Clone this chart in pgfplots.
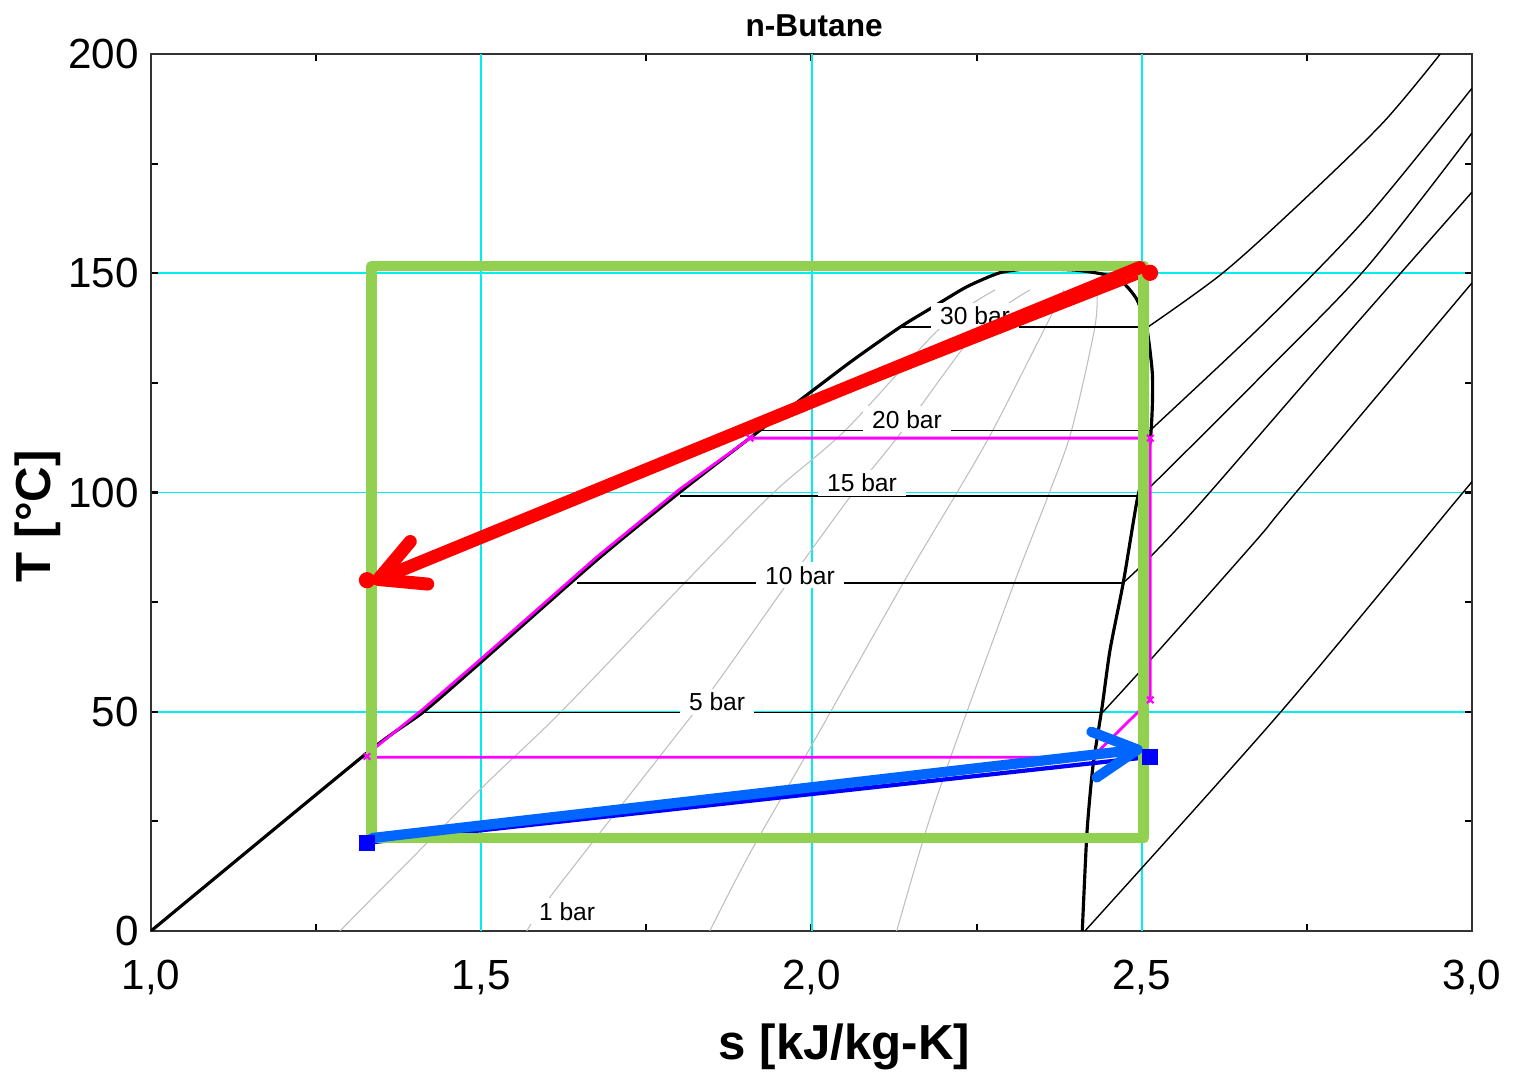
\documentclass[border=0pt]{standalone}
\usepackage{fontspec}
\setmainfont{Liberation Sans}
\usepackage{pgfplots}
\pgfplotsset{compat=1.18}
\usetikzlibrary{arrows.meta}
\definecolor{rgreen}{HTML}{92D050}
\definecolor{rblue}{HTML}{0066FF}
\definecolor{rgray}{RGB}{190,190,190}
\definecolor{rcyan}{RGB}{0,240,240}
\definecolor{rmag}{RGB}{255,0,255}
\definecolor{rred}{RGB}{255,0,0}
\definecolor{rdblue}{RGB}{0,0,255}
\begin{document}
\begin{tikzpicture}
\begin{axis}[
  at={(0,0)}, anchor=south west,
  scale only axis, width=13.21cm, height=8.77cm,
  xmin=1, xmax=3, ymin=0, ymax=200,
  xtick={1,1.5,2,2.5,3}, ytick={0,50,100,150,200},
  minor xtick={1.25,1.75,2.25,2.75}, minor ytick={25,75,125,175},
  ymajorgrids,
  major grid style={rcyan, line width=0.55pt},
  major tick length=0.7mm, minor tick length=0.7mm,
  tick style={black, line width=0.6pt},
  axis line style={black!80, line width=0.7pt},
  /pgf/number format/assume math mode=true,
  tick label style={font=\fontsize{12}{14}\selectfont},
  xticklabel style={yshift=-1.7mm, /pgf/number format/.cd, fixed, fixed zerofill, precision=1, use comma},
  title={n-Butane},
  title style={at={(axis description cs:0.502,1.032)}, anchor=center, yshift=-6pt, font=\fontsize{9}{11}\selectfont\bfseries},
  xlabel={s [kJ/kg-K]},
  xlabel style={at={(axis description cs:0.525,-0.132)}, anchor=center, font=\fontsize{14}{16}\selectfont\bfseries},
  ylabel={T [°C]},
  ylabel style={at={(axis description cs:-0.0855,0.473)}, anchor=center, font=\fontsize{14}{16}\selectfont\bfseries},
]
% vertical grid lines
\draw[rcyan, line width=0.6pt] (axis cs:1.5,0) -- (axis cs:1.5,200);
\draw[rcyan, line width=0.7pt] (axis cs:2.0007,0) -- (axis cs:2.0007,200);
\draw[rcyan, line width=0.6pt] (axis cs:2.5,0) -- (axis cs:2.5,200);
% quality lines (gray)
\addplot[rgray, line width=0.3pt, smooth] coordinates {(1.286,0) (1.498,32.2) (1.619,49.7) (1.808,79.4) (1.942,99.9) (2.052,114.3) (2.196,137.7) (2.278,146.2)};
\addplot[rgray, line width=0.3pt, smooth] coordinates {(1.569,0) (1.609,8.7) (1.790,43.6) (1.857,56.6) (1.964,79.4) (2.063,99.9) (2.139,114.3) (2.255,137.7) (2.331,146.2)};
\addplot[rgray, line width=0.3pt, smooth] coordinates {(1.846,0) (1.907,17.8) (2.005,43.6) (2.139,79.4) (2.220,99.9) (2.275,114.3) (2.354,137.7) (2.382,146.2)};
\addplot[rgray, line width=0.3pt, smooth] coordinates {(2.129,0) (2.175,23.7) (2.220,43.6) (2.307,79.4) (2.360,99.9) (2.394,114.3) (2.429,137.7) (2.432,146.2)};
% isobars in the dome
\addplot[black, line width=0.4pt] coordinates {(2.134,137.7) (2.509,137.7)};
\addplot[black, line width=0.4pt] coordinates {(1.922,114.2) (2.513,114.2)};
\addplot[black, line width=0.4pt] coordinates {(1.801,99.2) (2.495,99.2)};
\addplot[black, line width=0.4pt] coordinates {(1.645,79.4) (2.472,79.4)};
\addplot[black, line width=0.4pt] coordinates {(1.412,49.8) (2.437,49.8)};
% superheated isobars
\addplot[black, line width=0.4pt, smooth] coordinates {(2.509,137.7) (2.623,150.1) (2.740,166.0) (2.865,184.3) (2.952,200)};
\addplot[black, line width=0.4pt, smooth] coordinates {(2.513,114.2) (2.690,139.3) (2.841,162.8) (3.0,192.2)};
\addplot[black, line width=0.4pt, smooth] coordinates {(2.495,99.2) (2.513,101.3) (2.690,127.9) (2.841,151.4) (3.0,182.0)};
\addplot[black, line width=0.4pt, smooth] coordinates {(2.472,79.4) (2.513,85.3) (2.593,98.3) (2.790,132.5) (3.0,168.5)};
\addplot[black, line width=0.4pt, smooth] coordinates {(2.441,49.9) (2.513,61.8) (2.674,89.2) (2.724,98.3) (3.0,147.8)};
\addplot[black, line width=0.4pt, smooth] coordinates {(2.414,0) (2.709,49.7) (2.977,98.3) (3.0,102.4)};
% saturation dome
\addplot[black, line width=0.9pt, smooth, tension=0.4] coordinates {
 (1.000,0) (1.327,40.6) (1.412,49.9) (1.498,61.1) (1.675,84.6) (1.801,100.1) (1.917,113.6)
 (1.983,121.1) (2.063,130.2) (2.134,137.7) (2.184,142.3) (2.235,146.9) (2.285,150.1) (2.330,151.0)
 (2.400,150.7) (2.447,149.6) (2.472,147.8) (2.493,143.9) (2.508,137.1) (2.516,127.3) (2.516,119.5)
 (2.513,112.0) (2.505,105.1) (2.493,98.3) (2.472,79.4) (2.452,64.1) (2.440,51.1) (2.426,37.4)
 (2.417,22.3) (2.410,0)};
% isobar labels
\tikzset{isolab/.style={fill=white, inner xsep=0.9mm, inner ysep=0.4mm, anchor=base, font=\fontsize{7}{8}\selectfont}}
\node[isolab] at (axis cs:2.2476,138.2) {30 bar};
\node[isolab] at (axis cs:2.1446,114.7) {20 bar};
\node[isolab] at (axis cs:2.0765,100.2) {15 bar};
\node[isolab] at (axis cs:1.9826,79.1) {10 bar};
\node[isolab] at (axis cs:1.857,50.2) {5 bar};
\node[isolab] at (axis cs:1.630,2.5) {1 bar};
% magenta cycle
\addplot[rmag, line width=0.8pt, line join=round] coordinates {
 (1.327,40.3) (1.412,50.6) (1.498,61.8) (1.675,85.3) (1.801,100.8) (1.907,112.4)
 (2.513,112.4) (2.513,52.7) (2.425,39.6) (1.327,39.6)};
\addplot[rmag, only marks, mark=x, mark size=1.3pt, line width=0.6pt] coordinates {(1.907,112.4) (2.513,112.4) (2.513,52.7) (1.327,39.8)};
% thin red and blue lines
\addplot[rred, line width=1.2pt, mark=*, mark size=1.7pt] coordinates {(2.5125,150.1) (1.327,80.0)};
\addplot[rdblue, line width=1.2pt, mark=square*, mark size=1.7pt] coordinates {(1.327,20.1) (2.5125,39.7)};
% green rectangle
\addplot[rgreen, line width=3.1pt, line join=round, line cap=round] coordinates {
 (1.334,21.2) (2.503,21.2) (2.503,151.65) (1.334,151.65) (1.334,21.2)};
% thick arrows
\addplot[rred, line width=3.7pt, line cap=round, -{Straight Barb[length=4.4mm, width=4.6mm, round]}] coordinates {(2.497,151.3) (1.335,79.6)};
\addplot[rblue, line width=2.9pt, line cap=round, -{Straight Barb[length=4.4mm, width=4.6mm, round]}] coordinates {(1.335,21.2) (2.5015,41.5)};
\end{axis}
\pgfresetboundingbox
\path[use as bounding box] (-1.51cm,-1.49cm) rectangle (13.66cm,9.31cm);
\end{tikzpicture}
\end{document}
